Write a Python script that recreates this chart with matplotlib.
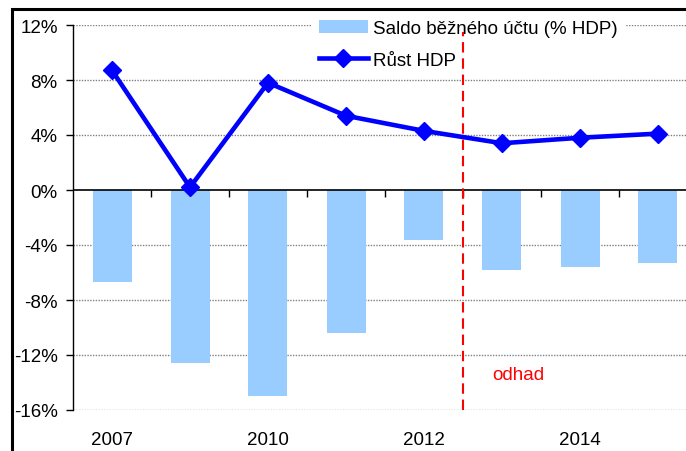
import matplotlib
matplotlib.use("Agg")
import matplotlib.pyplot as plt
from matplotlib.patches import Rectangle
from matplotlib.ticker import FuncFormatter

plt.rcParams['font.family'] = ['Liberation Sans', 'DejaVu Sans']

years = ["2007", "2009", "2010", "2011", "2012", "2013", "2014", "2015"]
shown_labels = ["2007", "", "2010", "", "2012", "", "2014", ""]
saldo = [-6.7, -12.6, -15.0, -10.4, -3.6, -5.8, -5.6, -5.3]
rust = [8.7, 0.2, 7.8, 5.4, 4.3, 3.4, 3.8, 4.1]
forecast_start = 5  # index of first estimated year
yticks = [12, 8, 4, 0, -4, -8, -12, -16]

fig = plt.figure(figsize=(6.86, 4.52), dpi=100)
ax = fig.add_axes([73/686, 1-411/452, 624/686, 385/452])

x = list(range(len(years)))
bars = ax.bar(x, saldo, width=0.5, color='#99CCFF', zorder=2, label='Saldo běžného účtu (% HDP)')
line, = ax.plot(x, rust, color='#0000FF', lw=3.3, marker='D', markersize=9, zorder=4, label='Růst HDP')

ax.set_xlim(-0.5, len(years) - 0.5)
ax.set_ylim(-16, 12)
ax.set_yticks(yticks)
ax.yaxis.set_major_formatter(FuncFormatter(lambda v, p: f"{v:.0f}%"))
for v in yticks:
    if v == 0:
        ax.axhline(v, color='black', lw=1.2, zorder=3)
    else:
        ax.axhline(v, color='#808080', lw=1.0, linestyle=(0, (1, 1)), zorder=1)

for s in ['top', 'right']:
    ax.spines[s].set_visible(False)
ax.spines['left'].set_linewidth(1.0)
ax.spines['bottom'].set_position(('data', 0))
ax.spines['bottom'].set_visible(False)
ax.set_xticks([i + 0.5 for i in x[:-1]])
ax.set_xticklabels([])
ax.tick_params(axis='x', direction='out', length=5, width=1, color='black')
ax.tick_params(axis='y', direction='out', length=5, width=1, labelsize=13.5, pad=6)

sec = ax.secondary_xaxis(0)
sec.set_xticks(x)
sec.set_xticklabels(shown_labels, fontsize=13.5)
sec.tick_params(length=0, pad=15)
sec.spines['bottom'].set_visible(False)

ax.vlines(forecast_start - 0.5, -16, 11.5, colors='#FF0000', linestyles=(0, (5, 2.8)), lw=1.5, zorder=8)
ax.text(forecast_start - 0.13, -13.4, 'odhad', color='#FF0000', fontsize=13.5, va='center', ha='left')

leg = ax.legend(handles=[bars, line], loc='upper left', bbox_to_anchor=(0.382, 1.032), frameon=True,
                facecolor='white', edgecolor='none', framealpha=1, fontsize=13.5, handlelength=2.6,
                handletextpad=0.3, labelspacing=0.76, borderpad=0.4, borderaxespad=0)
leg.set_zorder(6)

fig.add_artist(Rectangle((12/686, -0.1), 1.2, 1 - 9.5/452 + 0.1, fill=False, lw=2.2,
                         edgecolor='black', transform=fig.transFigure, clip_on=False))

fig.savefig('out.png', dpi=100)
